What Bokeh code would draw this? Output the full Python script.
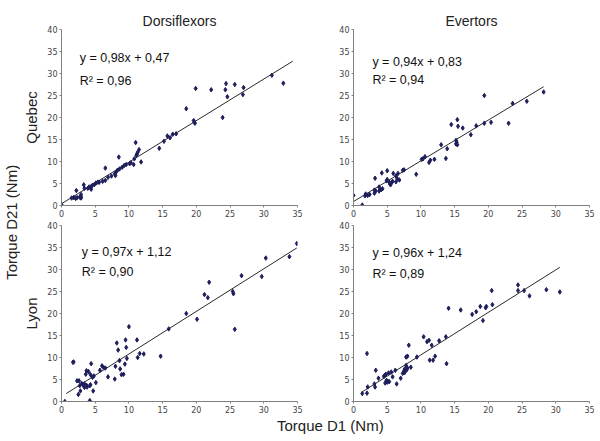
from bokeh.plotting import figure
from bokeh.layouts import row, column
from bokeh.models import Range1d, FixedTicker, ColumnDataSource
from bokeh.core.properties import value
from bokeh.embed import file_html
from bokeh.resources import INLINE

# ---------------- data ----------------
x_ticks = [0, 5, 10, 15, 20, 25, 30, 35]
y_ticks = [0, 5, 10, 15, 20, 25, 30, 35, 40]
col_titles = ["Dorsiflexors", "Evertors"]
row_titles = ["Quebec", "Lyon"]

# Dorsiflexors - Quebec
dq_x = [0, 1.5, 1.8, 2.1, 2.3, 2.7, 2.9, 2.2, 2.9, 2.9, 3.3, 3.4, 3.9, 4.1, 4.4, 4.6, 4.9, 5.1, 5.4, 5.6,
        6.1, 6.5, 4.4, 6.5, 6.9, 7.4, 7.9, 8.1, 8.3, 8.6, 9.0, 9.3, 9.6, 10.1, 10.3, 8.0, 8.5, 10.7, 10.8,
        11.1, 11.3, 11.2, 11.5, 11.0, 11.8, 14.5, 15.2, 15.7, 16.1, 16.5, 17.0, 18.5, 19.6, 19.7, 19.8,
        19.9, 22.2, 23.9, 24.3, 24.4, 24.6, 25.7, 26.9, 27.0, 31.2, 32.9]
dq_y = [0.2, 1.7, 1.8, 1.6, 1.8, 1.9, 1.7, 3.4, 2.5, 2.0, 4.7, 3.9, 3.9, 4.2, 4.3, 4.6, 4.8, 5.1, 5.3, 5.3,
        5.5, 5.7, 3.7, 8.5, 6.4, 6.7, 7.2, 7.6, 8.0, 8.3, 8.7, 9.1, 9.3, 9.5, 9.7, 6.8, 11.0, 9.3, 10.6,
        11.4, 12.1, 11.7, 12.7, 14.3, 9.9, 13.0, 14.6, 15.8, 15.4, 16.2, 16.3, 22.0, 19.3, 18.9, 18.7,
        26.6, 26.3, 20.0, 26.3, 27.7, 24.7, 27.5, 25.2, 26.8, 29.6, 27.8]
dq_line_x = [0, 34.3]
dq_line_y = [0.4, 32.8]

# Evertors - Quebec
eq_x = [0, 1.3, 1.7, 1.8, 2.1, 2.4, 3.1, 3.3, 3.1, 3.2, 3.8, 4.1, 4.3, 3.8, 4.2, 5.0, 4.9, 5.0, 5.3, 5.4,
        5.5, 5.7, 5.8, 5.9, 6.3, 6.6, 6.5, 6.8, 6.3, 7.3, 7.5, 9.3, 10.1, 10.3, 10.6, 11.2, 11.4, 12.0,
        13.0, 13.7, 13.9, 14.5, 15.2, 15.3, 15.2, 15.4, 15.4, 15.5, 16.2, 17.4, 18.2, 19.4, 19.4, 20.4,
        23.0, 23.6, 25.7, 28.2]
eq_y = [2.3, 0.1, 2.2, 2.6, 2.3, 2.5, 2.8, 3.3, 3.5, 6.2, 3.3, 3.6, 3.8, 4.2, 7.4, 7.9, 5.6, 5.9, 5.3, 4.9,
        4.7, 5.3, 5.5, 7.3, 6.7, 7.3, 6.1, 5.8, 5.4, 8.0, 8.1, 7.1, 10.5, 10.6, 11.1, 9.8, 10.3, 10.5,
        13.8, 10.7, 12.9, 18.4, 14.0, 14.4, 14.8, 13.8, 19.5, 18.0, 17.6, 16.1, 18.1, 25.0, 18.7, 18.9,
        18.7, 23.2, 23.7, 25.8]
eq_line_x = [0, 28.2]
eq_line_y = [0.9, 27.0]

# Dorsiflexors - Lyon
dl_x = [0.5, 1.7, 1.8, 2.3, 2.6, 2.5, 2.8, 2.7, 3.0, 3.2, 3.4, 3.7, 3.1, 3.6, 3.7, 3.4, 3.8, 4.0, 4.2,
        4.2, 4.3, 4.3, 4.4, 4.6, 4.8, 4.7, 5.1, 5.7, 6.0, 6.2, 6.5, 6.9, 7.9, 8.0, 8.2, 8.4, 8.6, 8.7,
        8.9, 9.2, 9.4, 9.5, 9.6, 9.7, 10.0, 11.2, 11.3, 11.6, 12.2, 14.7, 15.9, 18.5, 20.1, 21.2, 21.7,
        21.9, 25.4, 25.5, 25.7, 26.7, 29.7, 30.3, 33.8, 34.9]
dl_y = [0.0, 8.9, 9.0, 4.7, 4.7, 1.6, 2.4, 3.6, 4.1, 3.8, 4.0, 3.7, 3.9, 6.2, 7.0, 3.2, 3.3, 6.8, 0.2,
        3.6, 3.8, 6.1, 8.6, 5.5, 5.8, 2.4, 4.3, 7.1, 8.1, 7.8, 7.6, 5.6, 5.1, 8.0, 13.3, 11.7, 9.3, 7.4,
        6.1, 6.2, 8.5, 14.0, 12.3, 9.8, 17.0, 14.0, 10.0, 10.9, 10.8, 10.3, 16.5, 20.0, 18.7, 24.3, 23.6,
        27.1, 25.0, 24.5, 16.4, 28.6, 28.4, 32.6, 32.9, 35.9]
dl_line_x = [0.7, 34.9]
dl_line_y = [1.8, 34.9]

# Evertors - Lyon
el_x = [1.3, 2.0, 2.0, 2.1, 3.1, 3.2, 3.3, 3.7, 4.5, 4.6, 4.7, 4.9, 5.0, 5.1, 5.3, 4.8, 5.2, 5.6, 5.8,
        6.2, 6.4, 7.0, 7.3, 7.5, 7.6, 7.8, 7.9, 8.0, 7.6, 7.8, 8.0, 8.2, 8.5, 9.4, 10.4, 10.9, 11.2, 11.3,
        11.8, 11.6, 12.1, 12.7, 13.7, 13.8, 14.1, 15.9, 17.6, 18.2, 18.8, 19.2, 19.6, 19.7, 20.5, 20.6,
        24.4, 24.4, 25.3, 26.1, 28.6, 30.6]
el_y = [1.8, 10.9, 1.9, 3.3, 4.0, 3.3, 7.1, 5.3, 5.7, 5.9, 4.2, 4.8, 4.4, 4.6, 4.5, 6.2, 6.5, 6.7, 5.6,
        7.1, 4.0, 5.3, 6.4, 7.0, 7.4, 8.2, 7.2, 7.6, 6.6, 10.1, 10.3, 12.8, 7.8, 10.1, 14.7, 13.6, 13.9,
        9.4, 9.4, 12.8, 10.3, 13.8, 14.7, 8.6, 21.2, 20.8, 19.8, 20.4, 21.6, 18.4, 21.3, 21.6, 25.2, 22.0,
        26.5, 25.2, 25.2, 24.0, 25.4, 24.9]
el_line_x = [1.2, 30.6]
el_line_y = [2.1, 30.5]

equations = ["y = 0,98x + 0,47", "y = 0,94x + 0,83", "y = 0,97x + 1,12", "y = 0,96x + 1,24"]
r2_texts = ["R\u00b2 = 0,96", "R\u00b2 = 0,94", "R\u00b2 = 0,90", "R\u00b2 = 0,89"]

FONT = "Liberation Sans"
TICK_FONT = "DejaVu Sans"
POINT_COLOR = "#1e1e5c"


def panel(xs, ys, lx, ly, eq, r2, text_x, text_y, title=None, ylabel=None, top=False, left=False):
    p = figure(frame_width=236, frame_height=176,
               x_range=Range1d(0, 35), y_range=Range1d(0, 40),
               output_backend="svg", toolbar_location=None,
               min_border_left=38 if left else 50,
               min_border_right=6 if left else 8,
               min_border_top=29 if top else 6, min_border_bottom=14,
               title=title)
    p.outline_line_color = None
    p.grid.visible = False
    p.background_fill_color = "white"
    p.border_fill_color = "white"
    for ax in (p.xaxis, p.yaxis):
        ax.axis_line_color = "#808080"
        ax.major_tick_line_color = "#808080"
        ax.major_tick_out = 2
        ax.major_tick_in = 0
        ax.minor_tick_line_color = None
        ax.major_label_text_font = TICK_FONT
        ax.major_label_text_font_size = "8px"
        ax.major_label_text_color = "#444444"
        ax.major_label_standoff = 2
    p.xaxis.ticker = FixedTicker(ticks=x_ticks)
    p.yaxis.ticker = FixedTicker(ticks=y_ticks)
    if ylabel:
        p.yaxis.axis_label = ylabel
        p.yaxis.axis_label_text_font = FONT
        p.yaxis.axis_label_text_font_size = "15px"
        p.yaxis.axis_label_text_font_style = "normal"
        p.yaxis.axis_label_text_color = "#222222"
        p.yaxis.axis_label_standoff = 4
    if title:
        p.title.align = "center"
        p.title.text_font = FONT
        p.title.text_font_size = "14px"
        p.title.text_font_style = "normal"
        p.title.text_color = "#222222"
        p.title.standoff = 2
    p.line(lx, ly, line_color="#2a2a2a", line_width=1)
    p.scatter(xs, ys, marker="diamond", size=4.5, color=POINT_COLOR)
    src = ColumnDataSource(dict(x=[text_x, text_x], y=text_y, t=[eq, r2]))
    p.text(x="x", y="y", text="t", source=src, text_font=value(FONT),
           text_font_size="12.5px", text_baseline="middle", text_align="left",
           text_color="#111111")
    return p


tl = panel(dq_x, dq_y, dq_line_x, dq_line_y, equations[0], r2_texts[0], 2.7, [33.6, 28.4],
           title=col_titles[0], ylabel=row_titles[0], top=True, left=True)
tr = panel(eq_x, eq_y, eq_line_x, eq_line_y, equations[1], r2_texts[1], 2.8, [32.7, 28.5],
           title=col_titles[1], top=True)
bl = panel(dl_x, dl_y, dl_line_x, dl_line_y, equations[2], r2_texts[2], 3.0, [33.9, 29.4],
           ylabel=row_titles[1], left=True)
br = panel(el_x, el_y, el_line_x, el_line_y, equations[3], r2_texts[3], 2.8, [33.7, 29.0])


def label_fig(w, h, text, angle, fx, fy):
    f = figure(width=w, height=h, x_range=Range1d(0, 1), y_range=Range1d(0, 1),
               output_backend="svg", toolbar_location=None, min_border=0,
               x_axis_location=None, y_axis_location=None)
    f.outline_line_color = None
    f.grid.visible = False
    f.text(x=[fx], y=[fy], text=[text], angle=angle, text_font=value(FONT),
           text_font_size="15px", text_align="center", text_baseline="middle",
           text_color="#222222")
    return f


left_lab = label_fig(20, 435, "Torque D21 (Nm)", 1.5707963, 0.55, 0.49)
bottom_lab = label_fig(578, 20, "Torque D1 (Nm)", 0, 0.536, 0.5)

layout = row(left_lab, column(row(tl, tr), row(bl, br), bottom_lab))

open("out.html", "w").write(file_html(layout, INLINE))
